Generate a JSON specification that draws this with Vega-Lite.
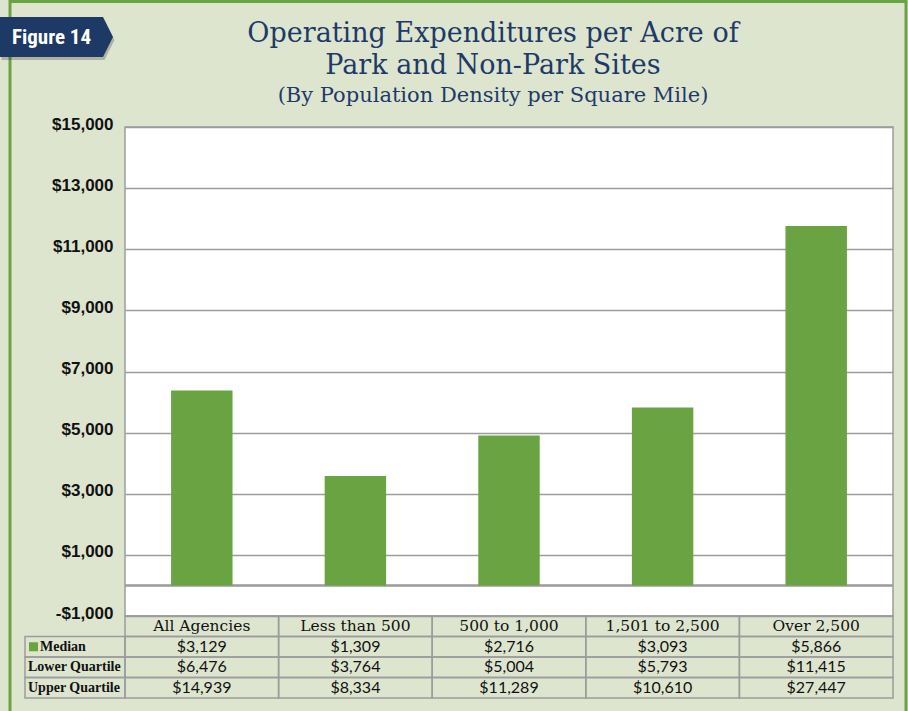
{
  "$schema": "https://vega.github.io/schema/vega-lite/v6.json",
  "background": "#dee5cf",
  "padding": {"left": 0, "top": 0, "right": 15, "bottom": 12},
  "autosize": {"type": "pad"},
  "columns": 2,
  "spacing": 0,
  "bounds": "flush",
  "align": "each",
  "config": {"view": {"stroke": null}, "font": "Liberation Sans"},
  "datasets": {
    "rows": [
      {"category": "All Agencies", "bar": 6380, "Median": 3129, "Lower Quartile": 6476, "Upper Quartile": 14939},
      {"category": "Less than 500", "bar": 3580, "Median": 1309, "Lower Quartile": 3764, "Upper Quartile": 8334},
      {"category": "500 to 1,000", "bar": 4910, "Median": 2716, "Lower Quartile": 5004, "Upper Quartile": 11289},
      {"category": "1,501 to 2,500", "bar": 5825, "Median": 3093, "Lower Quartile": 5793, "Upper Quartile": 10610},
      {"category": "Over 2,500", "bar": 11760, "Median": 5866, "Lower Quartile": 11415, "Upper Quartile": 27447}
    ],
    "titles": [
      {"line": 1, "text": "Operating Expenditures per Acre of\nPark and Non-Park Sites"},
      {"line": 2, "text": "(By Population Density per Square Mile)"}
    ],
    "rowheads": [
      {"row": "Median"},
      {"row": "Lower Quartile"},
      {"row": "Upper Quartile"}
    ],
    "badge": [{"label": "Figure 14"}]
  },
  "concat": [
    {
      "width": 100,
      "height": 127,
      "data": {"name": "badge"},
      "layer": [
        {
          "mark": {"type": "rect", "fillOpacity": 0, "stroke": "#6aa342", "strokeWidth": 3},
          "encoding": {"x": {"value": -15}, "x2": {"value": 881}, "y": {"value": 1.5}, "y2": {"value": 760}}
        },
        {
          "mark": {"type": "point", "shape": "M-1,-0.354L0.823,-0.354L1,0L0.823,0.354L-1,0.354Z", "size": 12769, "filled": true, "color": "#000000", "opacity": 0.22, "strokeWidth": 0},
          "encoding": {"x": {"value": 33}, "y": {"value": 40}}
        },
        {
          "mark": {"type": "point", "shape": "M-1,-0.354L0.823,-0.354L1,0L0.823,0.354L-1,0.354Z", "size": 12769, "filled": true, "color": "#1d3a66", "opacity": 1, "strokeWidth": 0},
          "encoding": {"x": {"value": 31.5}, "y": {"value": 37}}
        },
        {
          "mark": {"type": "text", "font": "Liberation Sans Narrow, Roboto Condensed, Liberation Sans", "fontWeight": "bold", "fontSize": 21, "color": "#ffffff", "baseline": "middle", "align": "center"},
          "encoding": {"x": {"value": 26.5}, "y": {"value": 38}, "text": {"field": "label"}}
        }
      ]
    },
    {
      "width": 768,
      "height": 127,
      "data": {"name": "titles"},
      "encoding": {
        "y": {"field": "line", "type": "ordinal", "scale": {"type": "point", "range": [41.5, 102], "padding": 0}, "axis": null},
        "text": {"field": "text"}
      },
      "layer": [
        {
          "transform": [{"filter": "datum.line == 1"}],
          "mark": {"type": "text", "font": "DejaVu Serif", "fontSize": 27, "lineHeight": 32, "lineBreak": "\n", "color": "#1e3a68", "baseline": "alphabetic", "align": "center", "dx": -16}
        },
        {
          "transform": [{"filter": "datum.line == 2"}],
          "mark": {"type": "text", "font": "DejaVu Serif", "fontSize": 21, "color": "#1e3a68", "baseline": "alphabetic", "align": "center", "dx": -16}
        }
      ]
    },
    {
      "width": 100,
      "height": 489,
      "data": {"values": [{}]},
      "mark": {"type": "point", "opacity": 0}
    },
    {
      "width": 768,
      "height": 489,
      "view": {"fill": "#ffffff", "stroke": "#9c9c9c", "strokeWidth": 1.5},
      "data": {"name": "rows"},
      "layer": [
        {
          "mark": {"type": "rule", "color": "#9c9c9c", "strokeWidth": 1.5},
          "encoding": {"y": {"datum": 0, "type": "quantitative"}}
        },
        {
          "mark": {"type": "bar", "color": "#6aa342"},
          "encoding": {
            "x": {"field": "category", "type": "nominal", "sort": null, "scale": {"paddingInner": 0.6, "paddingOuter": 0.3}, "axis": null},
            "y": {
              "field": "bar", "type": "quantitative",
              "scale": {"domain": [-1000, 15000], "nice": false},
              "axis": {
                "values": [-1000, 1000, 3000, 5000, 7000, 9000, 11000, 13000, 15000],
                "labelExpr": "(datum.value < 0 ? '-$' : '$') + format(abs(datum.value), ',')",
                "title": null, "domain": false, "ticks": false, "grid": true,
                "labelFont": "Liberation Sans", "labelFontWeight": "bold", "labelFontSize": 17, "labelColor": "#111111",
                "labelPadding": 12, "labelOffset": -3,
                "gridColor": "#9c9c9c", "gridWidth": 1.5, "gridOpacity": 1
              }
            }
          }
        }
      ]
    },
    {
      "width": 100,
      "height": 82,
      "data": {"name": "rowheads"},
      "encoding": {
        "y": {"field": "row", "type": "nominal", "scale": {"domain": ["Category", "Median", "Lower Quartile", "Upper Quartile"], "paddingInner": 0, "paddingOuter": 0}, "axis": null}
      },
      "layer": [
        {"mark": {"type": "rect", "fillOpacity": 0, "stroke": "#9c9c9c", "strokeWidth": 1.5}},
        {
          "transform": [{"filter": "datum.row == 'Median'"}],
          "mark": {"type": "point", "shape": "square", "filled": true, "color": "#6aa342", "size": 81, "opacity": 1},
          "encoding": {"x": {"value": 8.5}}
        },
        {
          "transform": [{"filter": "datum.row == 'Median'"}],
          "mark": {"type": "text", "font": "Liberation Serif", "fontWeight": "bold", "fontSize": 14, "color": "#111111", "align": "left", "baseline": "middle"},
          "encoding": {"x": {"value": 15}, "text": {"field": "row"}}
        },
        {
          "transform": [{"filter": "datum.row != 'Median'"}],
          "mark": {"type": "text", "font": "Liberation Serif", "fontWeight": "bold", "fontSize": 14, "color": "#111111", "align": "left", "baseline": "middle"},
          "encoding": {"x": {"value": 3}, "text": {"field": "row"}}
        }
      ]
    },
    {
      "width": 768,
      "height": 82,
      "data": {"name": "rows"},
      "encoding": {
        "x": {"field": "category", "type": "nominal", "sort": null, "scale": {"paddingInner": 0, "paddingOuter": 0}, "axis": null}
      },
      "layer": [
        {
          "mark": {"type": "rect", "fillOpacity": 0, "stroke": "#9c9c9c", "strokeWidth": 1.5},
          "encoding": {"y": {"datum": "Category", "type": "nominal", "scale": {"domain": ["Category", "Median", "Lower Quartile", "Upper Quartile"], "paddingInner": 0, "paddingOuter": 0}, "axis": null}}
        },
        {
          "mark": {"type": "text", "font": "DejaVu Serif", "fontSize": 15.5, "color": "#111111", "baseline": "middle"},
          "encoding": {
            "y": {"datum": "Category", "type": "nominal"},
            "text": {"field": "category"}
          }
        },
        {
          "transform": [{"fold": ["Median", "Lower Quartile", "Upper Quartile"], "as": ["row", "amount"]}],
          "mark": {"type": "rect", "fillOpacity": 0, "stroke": "#9c9c9c", "strokeWidth": 1.5},
          "encoding": {"y": {"field": "row", "type": "nominal"}}
        },
        {
          "transform": [{"fold": ["Median", "Lower Quartile", "Upper Quartile"], "as": ["row", "amount"]}],
          "mark": {"type": "text", "font": "Lato", "fontSize": 16, "color": "#111111", "baseline": "middle"},
          "encoding": {
            "y": {"field": "row", "type": "nominal"},
            "text": {"field": "amount", "type": "quantitative", "format": "$,.0f"}
          }
        }
      ]
    }
  ]
}
